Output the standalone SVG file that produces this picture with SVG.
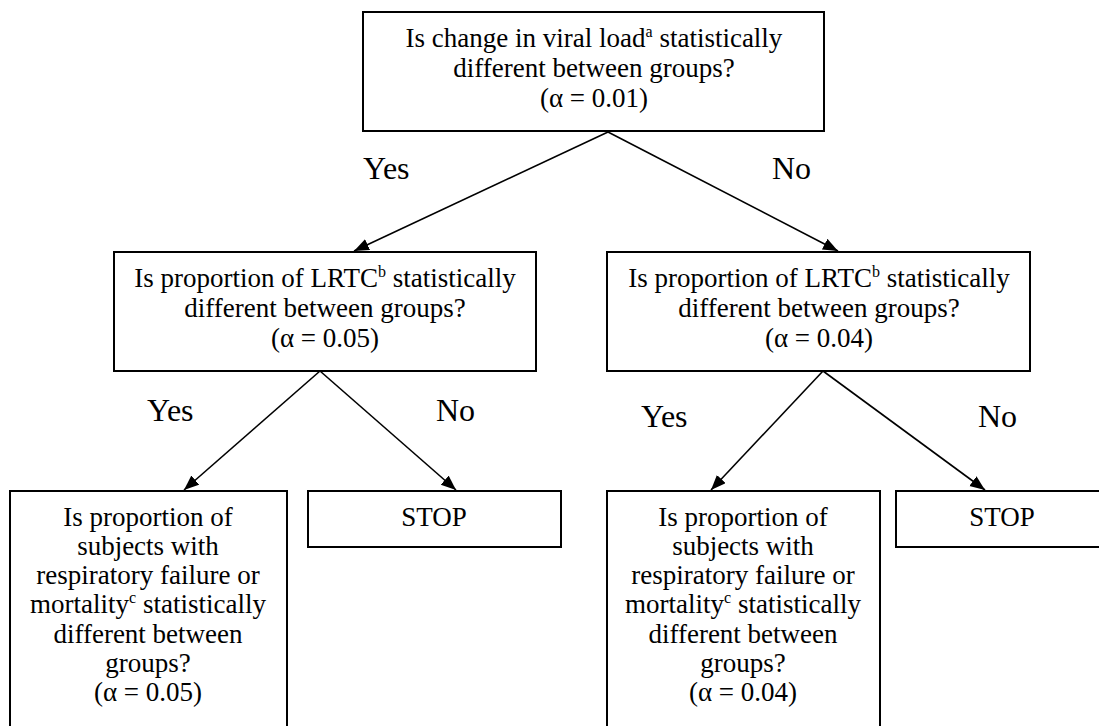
<svg xmlns="http://www.w3.org/2000/svg" width="1099" height="726" viewBox="0 0 1099 726">
<style>
.box{fill:#fff;stroke:#000;stroke-width:2}
.t{font-family:"Liberation Serif","Times New Roman",serif;font-size:27px;fill:#000;text-anchor:middle}
.sup{font-size:16px}
.lbl{font-family:"Liberation Serif","Times New Roman",serif;font-size:32px;fill:#000}
.conn{stroke:#000;stroke-width:1.6;fill:none;marker-end:url(#arr)}
</style>
<defs>
<marker id="arr" markerUnits="userSpaceOnUse" markerWidth="16" markerHeight="14" refX="15" refY="6" orient="auto">
<path d="M0,0 L15,6 L0,12 z" fill="#000"/>
</marker>
</defs>
<rect width="1099" height="726" fill="#fff"/>
<g id="connectors">
<line class="conn" x1="608" y1="132" x2="354" y2="251"/>
<line class="conn" x1="608" y1="132" x2="838" y2="251"/>
<line class="conn" x1="320" y1="371" x2="184" y2="490"/>
<line class="conn" x1="320" y1="371" x2="456" y2="490"/>
<line class="conn" x1="823" y1="371" x2="711" y2="490"/>
<line class="conn" x1="823" y1="371" x2="985" y2="490"/>
</g>
<g id="labels">
<text class="lbl" x="363" y="179">Yes</text>
<text class="lbl" x="772" y="179">No</text>
<text class="lbl" x="147" y="421">Yes</text>
<text class="lbl" x="436" y="421">No</text>
<text class="lbl" x="641" y="427">Yes</text>
<text class="lbl" x="978" y="427">No</text>
</g>
<g id="q1">
<rect class="box" x="363" y="12" width="461" height="119"/>
<text class="t" x="594" y="47">Is change in viral load<tspan class="sup" dy="-10">a</tspan><tspan dy="10"> statistically</tspan></text>
<text class="t" x="594" y="77">different between groups?</text>
<text class="t" x="594" y="107">(α = 0.01)</text>
</g>
<g id="q2left">
<rect class="box" x="114" y="252" width="422" height="119"/>
<text class="t" x="325" y="287">Is proportion of LRTC<tspan class="sup" dy="-10">b</tspan><tspan dy="10"> statistically</tspan></text>
<text class="t" x="325" y="317">different between groups?</text>
<text class="t" x="325" y="347">(α = 0.05)</text>
</g>
<g id="q2right">
<rect class="box" x="607" y="252" width="423" height="119"/>
<text class="t" x="819" y="287">Is proportion of LRTC<tspan class="sup" dy="-10">b</tspan><tspan dy="10"> statistically</tspan></text>
<text class="t" x="819" y="317">different between groups?</text>
<text class="t" x="819" y="347">(α = 0.04)</text>
</g>
<g id="q3left">
<rect class="box" x="10" y="491" width="277" height="250"/>
<text class="t" x="148" y="526">Is proportion of</text>
<text class="t" x="148" y="555">subjects with</text>
<text class="t" x="148" y="584">respiratory failure or</text>
<text class="t" x="148" y="613">mortality<tspan class="sup" dy="-10">c</tspan><tspan dy="10"> statistically</tspan></text>
<text class="t" x="148" y="643">different between</text>
<text class="t" x="148" y="672">groups?</text>
<text class="t" x="148" y="701">(α = 0.05)</text>
</g>
<g id="stopleft">
<rect class="box" x="308" y="491" width="253" height="56"/>
<text class="t" x="434" y="526">STOP</text>
</g>
<g id="q3right">
<rect class="box" x="607" y="491" width="273" height="250"/>
<text class="t" x="743" y="526">Is proportion of</text>
<text class="t" x="743" y="555">subjects with</text>
<text class="t" x="743" y="584">respiratory failure or</text>
<text class="t" x="743" y="613">mortality<tspan class="sup" dy="-10">c</tspan><tspan dy="10"> statistically</tspan></text>
<text class="t" x="743" y="643">different between</text>
<text class="t" x="743" y="672">groups?</text>
<text class="t" x="743" y="701">(α = 0.04)</text>
</g>
<g id="stopright">
<rect class="box" x="896" y="491" width="212" height="56"/>
<text class="t" x="1002" y="526">STOP</text>
</g>
</svg>
